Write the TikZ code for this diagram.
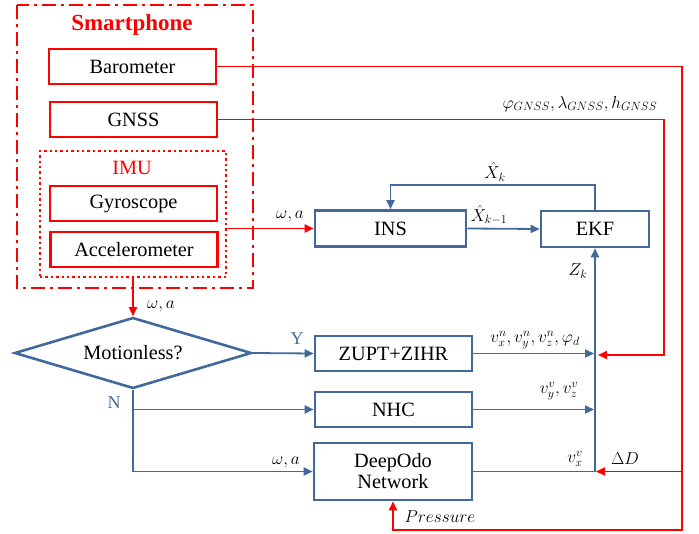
\documentclass[tikz,border=0pt]{standalone}
\usepackage{fontspec}
\setmainfont{Liberation Serif}
\usetikzlibrary{arrows.meta,shapes.geometric}
\definecolor{bl}{RGB}{65,105,155}
\definecolor{rd}{RGB}{255,0,0}
\tikzset{
  txt/.style={font=\fontsize{20.3}{23}\selectfont},
  rbox/.style={draw=rd, line width=2.6pt, minimum width=167pt, minimum height=35pt, inner sep=0pt, txt},
  bbox/.style={draw=bl, line width=2.6pt, minimum width=157pt, minimum height=35pt, inner sep=0pt, txt},
  rline/.style={draw=rd, line width=1.8pt},
  bline/.style={draw=bl, line width=1.8pt},
  tip/.style={-{Triangle[length=9pt,width=8pt]}},
  lab/.style={font=\fontsize{16.5}{18}\selectfont, inner sep=0pt},
  blab/.style={text=bl, font=\fontsize{18}{20}\selectfont, inner sep=0pt}
}
\begin{document}
\begin{tikzpicture}[x=1pt,y=-1pt]
\useasboundingbox (0,0) rectangle (699,533);
% smartphone frame
\draw[rd, line width=2.6pt, dash pattern=on 14pt off 5pt on 3pt off 5pt] (17,5) rectangle (253,288);
\node[text=rd, font=\bfseries\fontsize{23}{26}\selectfont, inner sep=0pt] (sp) at (132,25) {Smartphone};
\node[rbox] (baro) at (132.5,66.5) {Barometer};
\node[rbox] (gnss) at (133.5,119.5) {GNSS};
\node[draw=rd, line width=2.4pt, dash pattern=on 2.4pt off 3pt, minimum width=186pt, minimum height=126pt, inner sep=0pt] (imu) at (133,214) {};
\node[text=rd, txt, inner sep=0pt] (imulab) at (132,168) {IMU};
\node[rbox] (gyro) at (133.5,203.5) {Gyroscope};
\node[rbox] (acc) at (134,249.5) {Accelerometer};
% blue boxes
\node[bbox, minimum width=151pt, minimum height=36pt] (ins) at (390.5,228.5) {INS};
\node[bbox, minimum width=108pt, minimum height=36pt] (ekf) at (595,229) {EKF};
\node[bbox] (zupt) at (393.5,353.5) {ZUPT+ZIHR};
\node[bbox] (nhc) at (393.5,409.5) {NHC};
\node[bbox, minimum width=158pt, minimum height=57pt, align=center] (deep) at (393,471.5) {DeepOdo\\[-2pt]Network};
\node[draw=bl, line width=2.6pt, diamond, aspect=3.34, minimum width=237pt, minimum height=71pt, inner sep=0pt, txt] (dia) at (133,353) {Motionless?};
% coordinates
\coordinate (busb) at (595,471.5);
\coordinate (zin) at (594,353.5);
\coordinate (nin) at (594,409.5);
\coordinate (rbar) at (682,66.5);
\coordinate (rbot) at (682,530);
\coordinate (rdd) at (682,471.5);
\coordinate (ddin) at (596,471.5);
\coordinate (rg) at (664,355);
\coordinate (gin) at (598,355);
\coordinate (fb) at (595,185);
\coordinate (nb) at (133,409.5);
\coordinate (nbot) at (133,471.5);
% blue connectors
\draw[bline, tip] (ins.east) -- (ekf.west);
\draw[bline, tip] (ekf.north) -- (fb) -| (ins.north);
\draw[bline, tip] (busb) -- (ekf.south);
\draw[bline, tip] (zupt.east) -- (zin);
\draw[bline, tip] (nhc.east) -- (nin);
\draw[bline] (deep.east) -- (busb);
\draw[bline, tip] (dia.east) -- (zupt.west);
\draw[bline, tip] (dia.south) -- (nbot) -- (deep.west);
\draw[bline, tip] (nb) -- (nhc.west);
% red connectors
\draw[rline, tip] (imu.east |- ins.west) -- (ins.west);
\draw[rline, tip] (imu.south) -- (dia.north);
\draw[rline, tip] (baro.east) -- (rbar) -- (rbot) -| (deep.south);
\draw[rline, tip] (rdd) -- (ddin);
\draw[rline, tip] (gnss.east) -| (rg) -- (gin);
% labels
\node[lab] (l1) at (495,172) {$\hat{X}_k$};
\node[lab] (l2) at (489,215) {$\hat{X}_{k-1}$};
\node[lab] (l3) at (290,216) {$\omega, a$};
\node[lab] (l4) at (578,271) {$Z_k$};
\node[lab] (l5) at (161,306) {$\omega, a$};
\node[lab] (l6) at (286,462) {$\omega, a$};
\node[lab] (l7) at (580,104) {$\varphi_{GNSS}, \lambda_{GNSS}, h_{GNSS}$};
\node[lab] (l8) at (535,340) {$v_x^n, v_y^n, v_z^n, \varphi_d$};
\node[lab] (l9) at (559,391) {$v_y^v, v_z^v$};
\node[lab] (l10) at (575,459) {$v_x^v$};
\node[lab] (l11) at (625,459) {$\Delta D$};
\node[lab] (l12) at (440,517) {$Pressure$};
\node[blab] (ly) at (297,339) {Y};
\node[blab] (ln) at (114,403) {N};
\end{tikzpicture}
\end{document}
